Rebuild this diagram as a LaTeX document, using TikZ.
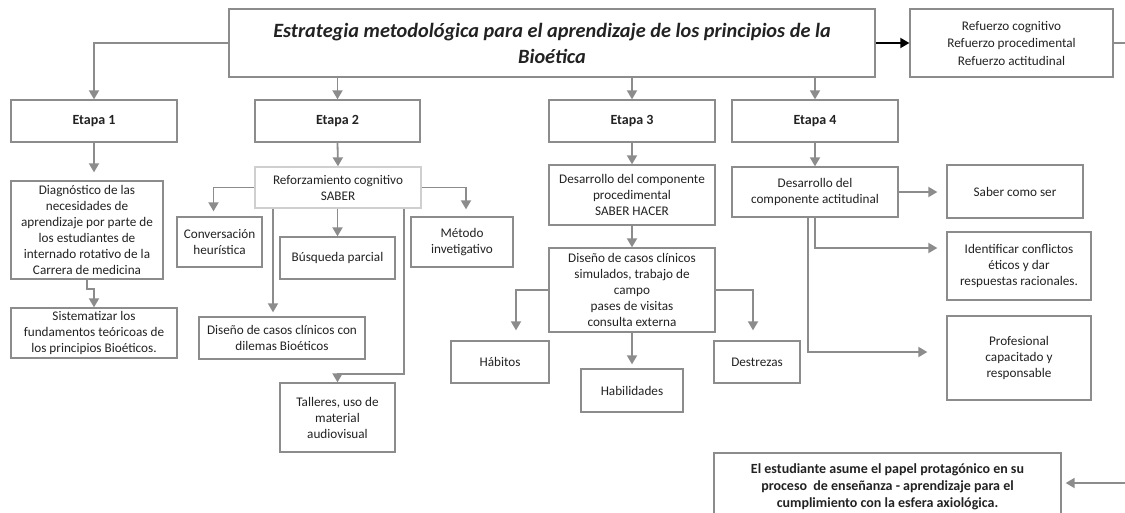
\documentclass[tikz,border=0pt]{standalone}
\usepackage{fontspec}
\setmainfont{Carlito}
\usetikzlibrary{arrows.meta}
\definecolor{gris}{HTML}{8C8C8C}
\definecolor{grisclaro}{HTML}{CFCFCF}
\definecolor{tinta}{HTML}{222222}

\begin{document}
\begin{tikzpicture}[x=1pt,y=-1pt,
    caja/.style={draw=gris,line width=1.3pt,align=center,inner sep=0pt,
      text=tinta,font=\fontsize{13.2}{16}\selectfont},
    etapa/.style={caja,minimum width=166pt,minimum height=42pt,
      font=\fontsize{14}{16}\selectfont\bfseries},
    flecha/.style={draw=gris,line width=1.8pt,-{Triangle[width=10pt,length=9pt]}},
    linea/.style={draw=gris,line width=1.8pt}]

  \useasboundingbox (0,0) rectangle (1125,512);

  %------------------
  % cabecera
  %------------------
  \node[caja,minimum width=646pt,minimum height=68pt,
    font=\fontsize{20.3}{26}\selectfont\bfseries\itshape] (titulo) at (552,43)
    {Estrategia metodológica para el aprendizaje de los principios de la\\Bioética};
  \node[caja,minimum width=203pt,minimum height=68pt,
    font=\fontsize{13.2}{17.5}\selectfont] (refuerzo) at (1011.5,43)
    {Refuerzo cognitivo\\Refuerzo procedimental\\Refuerzo actitudinal};
  \coordinate (finsup) at (1130,43);

  %------------------
  % etapas
  %------------------
  \node[etapa] (etapa1) at (94,121) {Etapa 1};
  \node[etapa,minimum width=165pt] (etapa2) at (337.5,121) {Etapa 2};
  \node[etapa] (etapa3) at (632,121) {Etapa 3};
  \node[etapa] (etapa4) at (815,121) {Etapa 4};

  %------------------
  % etapa 1
  %------------------
  \node[caja,minimum width=152pt,minimum height=98pt] (diag) at (87,230)
    {Diagnóstico de las\\necesidades de\\aprendizaje por parte de\\los estudiantes de\\internado rotativo de la\\Carrera de medicina};
  \node[caja,minimum width=166pt,minimum height=50pt] (sist) at (94,333)
    {Sistematizar los\\fundamentos teóricoas de\\los principios Bioéticos.};

  %------------------
  % etapa 2
  %------------------
  \node[caja,draw=grisclaro,minimum width=166pt,minimum height=41pt] (reforz) at (338,187.5)
    {Reforzamiento cognitivo\\SABER};
  \node[caja,minimum width=85pt,minimum height=50pt] (conv) at (219.5,242)
    {Conversación\\heurística};
  \node[caja,minimum width=115pt,minimum height=42pt] (busq) at (337.5,258)
    {Búsqueda parcial};
  \node[caja,minimum width=102pt,minimum height=50pt] (metodo) at (462,242)
    {Método\\invetigativo};
  \node[caja,minimum width=166pt,minimum height=42pt] (dilemas) at (282,338)
    {Diseño de casos clínicos con\\dilemas Bioéticos};
  \node[caja,minimum width=115pt,minimum height=69pt] (talleres) at (337.5,417.5)
    {Talleres, uso de\\material\\audiovisual};

  %------------------
  % etapa 3
  %------------------
  \node[caja,minimum width=166pt,minimum height=60pt] (proced) at (632,195)
    {Desarrollo del componente\\procedimental\\SABER HACER};
  \node[caja,minimum width=166pt,minimum height=84pt] (simul) at (632,290)
    {Diseño de casos clínicos\\simulados, trabajo de\\campo\\pases de visitas\\consulta externa};
  \node[caja,minimum width=98pt,minimum height=42pt] (habitos) at (500,362) {Hábitos};
  \node[caja,minimum width=102pt,minimum height=43pt] (habil) at (632,390.5) {Habilidades};
  \node[caja,minimum width=86pt,minimum height=42pt] (destrezas) at (757,362) {Destrezas};

  %------------------
  % etapa 4
  %------------------
  \node[caja,minimum width=166pt,minimum height=50pt] (actit) at (815,192)
    {Desarrollo del\\componente actitudinal};
  \node[caja,minimum width=136pt,minimum height=53pt] (saber) at (1015,191.5)
    {Saber como ser};
  \node[caja,minimum width=144pt,minimum height=68pt] (identif) at (1019,266)
    {Identificar conflictos\\éticos y dar\\respuestas racionales.};
  \node[caja,minimum width=144pt,minimum height=84pt] (profes) at (1019,358)
    {Profesional\\capacitado y\\responsable};

  % pie
  \node[caja,minimum width=347pt,minimum height=67pt,
    font=\fontsize{14}{17}\selectfont\bfseries] (estudiante) at (887.5,486.5)
    {El estudiante asume el papel protagónico en su\\proceso\ \ de enseñanza - aprendizaje para el\\cumplimiento con la esfera axiológica.};
  \coordinate (fininf) at (1130,483);

  %------------------
  % conectores
  %------------------
  \draw[flecha] (titulo.west) -| (etapa1.north);
  \foreach \e in {etapa2,etapa3,etapa4}
    \draw[flecha] (\e.north |- titulo.south) -- (\e.north);
  \draw[line width=1.8pt,-{Triangle[width=10pt,length=9pt]}] (titulo.east) -- (refuerzo.west);
  \draw[linea] (refuerzo.east) -- (finsup);

  \draw[flecha,shorten >=8pt] (etapa1.south) -- (etapa1.south |- diag.north);
  \draw[flecha] (diag.south) -- ++(0,9) -| (sist.north);

  \draw[flecha] (etapa2.south) -- (reforz.north);
  \draw[flecha,shorten >=5pt] (reforz.west) -| ([xshift=-6pt]conv.north);
  \draw[flecha,shorten >=7pt] (reforz.east) -| ([xshift=4pt]metodo.north);
  \draw[flecha] (reforz.south -| busq.north) -- (busq.north);
  \draw[flecha,shorten >=4pt] ([xshift=-9pt]reforz.south -| dilemas.north) -- ([xshift=-9pt]dilemas.north);
  \draw[flecha] ([xshift=-18pt]reforz.south east) -- ++(0,165) -| (talleres.north);

  \draw[flecha] (etapa3.south) -- (proced.north);
  \draw[flecha] (proced.south) -- (simul.north);
  \draw[flecha,shorten >=10pt] (simul.west) -| ([xshift=16pt]habitos.north);
  \draw[flecha,shorten >=4pt] (simul.south) -- (habil.north);
  \draw[flecha,shorten >=10pt] (simul.east) -| ([xshift=-4pt]destrezas.north);

  \draw[flecha] (etapa4.south) -- (actit.north);
  \draw[flecha,shorten >=9pt] (actit.east) -- (actit.east -| saber.west);
  \draw[flecha,shorten >=9pt] (actit.south) |- ([yshift=18pt]identif.west);
  \draw[flecha,shorten >=19pt] ([xshift=-7pt]actit.south) |- ([yshift=6pt]profes.west);

  \draw[flecha,shorten >=4pt] (fininf) -- (fininf -| estudiante.east);
\end{tikzpicture}
\end{document}
